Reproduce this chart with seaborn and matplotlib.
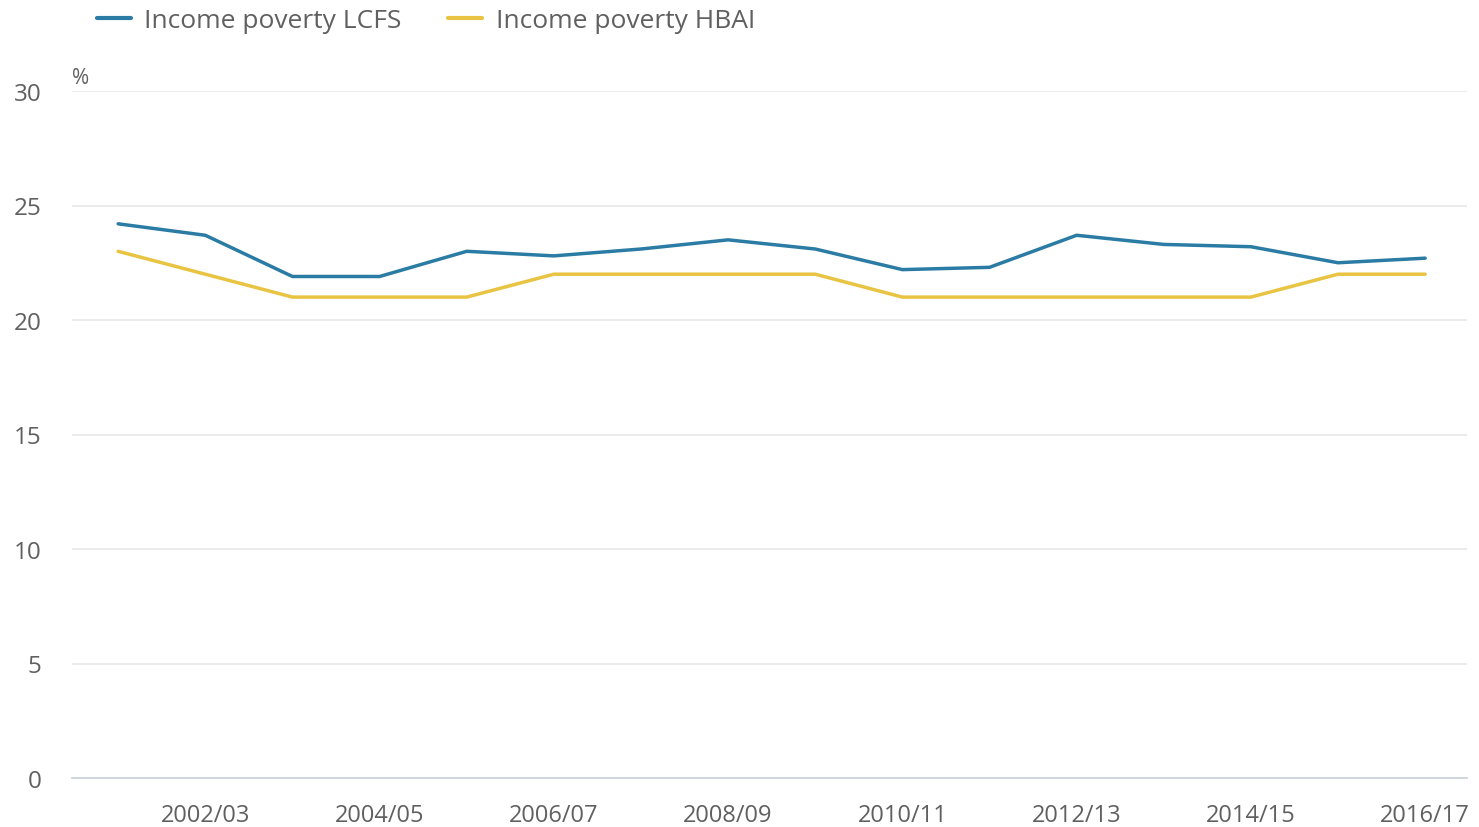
import pandas as pd
import matplotlib.pyplot as plt
import seaborn as sns
from matplotlib.lines import Line2D

years = ['2001/02', '2002/03', '2003/04', '2004/05', '2005/06', '2006/07', '2007/08', '2008/09',
         '2009/10', '2010/11', '2011/12', '2012/13', '2013/14', '2014/15', '2015/16', '2016/17']
lcfs = [24.2, 23.7, 21.9, 21.9, 23.0, 22.8, 23.1, 23.5, 23.1, 22.2, 22.3, 23.7, 23.3, 23.2, 22.5, 22.7]
hbai = [23, 22, 21, 21, 21, 22, 22, 22, 22, 21, 21, 21, 21, 21, 22, 22]
series_names = ['Income poverty LCFS', 'Income poverty HBAI']
colors = ['#2b7ca5', '#e8c442']

df = pd.DataFrame({
    'idx': list(range(len(years))) * 2,
    'value': lcfs + hbai,
    'series': [series_names[0]] * len(years) + [series_names[1]] * len(years),
})

sns.set_style('white')
plt.rcParams['font.family'] = ['Open Sans', 'DejaVu Sans']

fig = plt.figure(figsize=(14.79, 8.28), dpi=100)
ax = fig.add_axes([72 / 1479, 49 / 828, (1467 - 72) / 1479, (779 - 92) / 828])

sns.lineplot(data=df, x='idx', y='value', hue='series', palette=colors,
             linewidth=2.5, ax=ax, legend=False)

ax.set_ylim(0, 30)
ax.set_xlim(-0.53, 15.48)
ax.set_yticks([0, 5, 10, 15, 20, 25, 30])
ax.grid(axis='y', color='#e8e8e8', linewidth=1.2)
ax.set_axisbelow(True)

tick_pos = list(range(1, len(years), 2))
ax.set_xticks(tick_pos)
ax.set_xticklabels([years[i] for i in tick_pos])

for s in ['top', 'right', 'left']:
    ax.spines[s].set_visible(False)
ax.spines['bottom'].set_color('#c9d1da')
ax.spines['bottom'].set_linewidth(1.2)

ax.tick_params(axis='y', length=0, pad=22, labelsize=17.5, labelcolor='#606060')
ax.tick_params(axis='x', length=11, width=1, color='#c9d1da', pad=7,
               labelsize=17, labelcolor='#606060')
for lbl in ax.get_yticklabels():
    lbl.set_horizontalalignment('right')

ax.set_xlabel('')
ax.set_ylabel('')
fig.text(72 / 1479, 1 - 78 / 828, '%', fontsize=15, color='#606060', va='center', ha='left')

# legend along the top
handles = [Line2D([0], [0], color=c, linewidth=3) for c in colors]
leg = fig.legend(handles, series_names, loc='center left', bbox_to_anchor=(97 / 1479, 1 - 22 / 828),
                 ncol=2, frameon=False, fontsize=19, handlelength=1.3,
                 columnspacing=1.75, handletextpad=0.5, borderaxespad=0, borderpad=0)
for t in leg.get_texts():
    t.set_color('#606060')

fig.savefig('out.png', dpi=100)
plt.close(fig)
